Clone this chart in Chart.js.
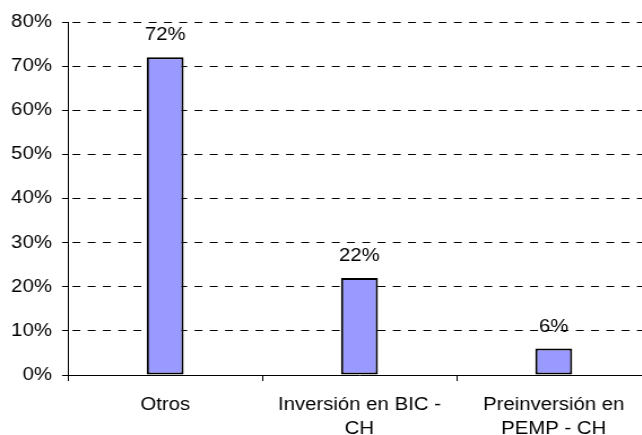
<!DOCTYPE html>
<html>
<head>
<meta charset="utf-8">
<script src="https://cdn.jsdelivr.net/npm/chart.js@4/dist/chart.umd.min.js"></script>
<style>
  html, body { margin: 0; padding: 0; background: #fff; overflow: hidden; }
  #wrap { width: 586px; height: 435px; transform: scaleX(1.13); transform-origin: 0 0; }
</style>
</head>
<body>
<div id="wrap"><canvas id="chart" width="586" height="435"></canvas></div>
<script>
// datos del grafico
const categorias = ['Otros', ['Inversión en BIC -', 'CH'], ['Preinversión en', 'PEMP - CH']];
const valores = [72, 22, 6];
const etiquetas = ['72%', '22%', '6%'];
const ticksY = [0, 10, 20, 30, 40, 50, 60, 70, 80];

const fuente = { family: 'Liberation Sans, Arial, sans-serif', size: 18 };

// etiquetas de valor encima de cada barra
const etiquetasBarras = {
    id: 'etiquetasBarras',
    afterDatasetsDraw(chart) {
        const ctx = chart.ctx;
        const meta = chart.getDatasetMeta(0);
        ctx.save();
        ctx.font = '18px ' + fuente.family;
        ctx.fillStyle = '#000';
        ctx.textAlign = 'center';
        ctx.textBaseline = 'alphabetic';
        meta.data.forEach((bar, i) => {
            ctx.fillText(etiquetas[i], bar.x, bar.y - 17);
        });
        ctx.restore();
    }
};

new Chart(document.getElementById('chart'), {
    type: 'bar',
    data: {
        labels: categorias,
        datasets: [{
            data: valores,
            backgroundColor: '#9999ff',
            borderColor: '#000',
            borderWidth: 2,
            borderSkipped: false,
            barPercentage: 0.19,
            categoryPercentage: 1
        }]
    },
    options: {
        responsive: false,
        animation: false,
        devicePixelRatio: 1,
        layout: { padding: { top: 22, right: 10, bottom: 0, left: 0 } },
        plugins: {
            legend: { display: false },
            tooltip: { enabled: false }
        },
        scales: {
            x: {
                offset: true,
                grid: {
                    display: true,
                    drawOnChartArea: false,
                    drawTicks: true,
                    tickLength: 6,
                    tickColor: '#000',
                    offset: true
                },
                border: { display: true, color: '#000', width: 1 },
                ticks: {
                    color: '#000',
                    font: { family: fuente.family, size: 18, lineHeight: 1.333 },
                    padding: 12,
                    maxRotation: 0,
                    autoSkip: false
                },
                afterFit(scale) { scale.height = 60; }
            },
            y: {
                min: 0,
                max: 80,
                afterBuildTicks(scale) {
                    scale.ticks = ticksY.map(v => ({ value: v }));
                },
                grid: {
                    color: '#000',
                    lineWidth: 1,
                    tickBorderDash: [],
                    tickLength: 5.3,
                    tickColor: '#000'
                },
                border: { display: true, color: '#000', width: 1, dash: [7, 6.5], dashOffset: 10.4 },
                ticks: {
                    color: '#000',
                    font: fuente,
                    padding: 9,
                    callback: v => v + '%'
                },
                afterFit(scale) { scale.width = 60.2; }
            }
        }
    },
    plugins: [etiquetasBarras]
});
</script>
</body>
</html>
